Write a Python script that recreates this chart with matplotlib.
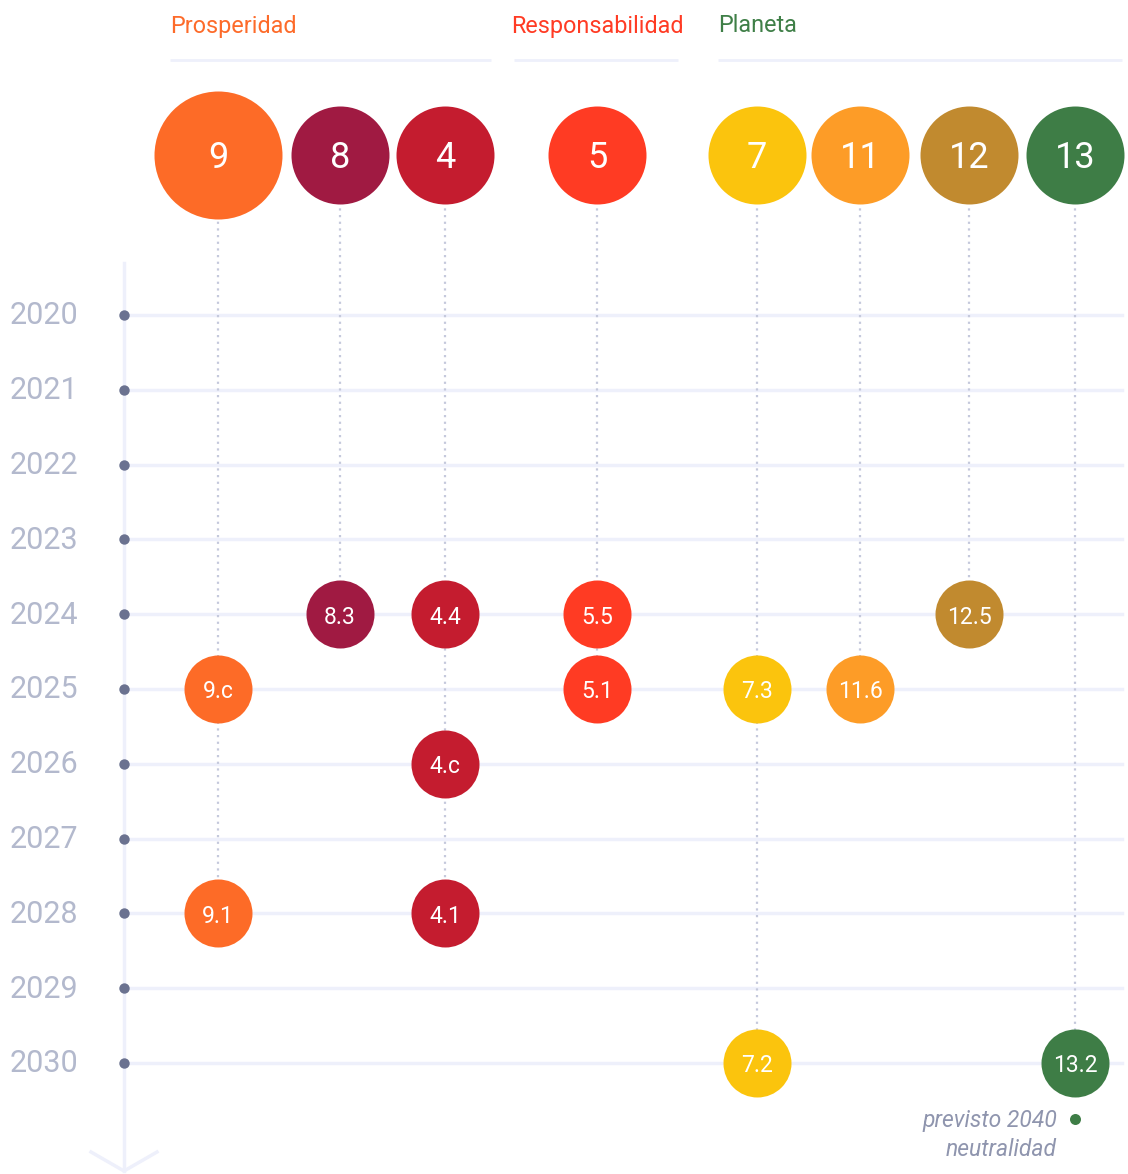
import matplotlib
matplotlib.use("Agg")
import matplotlib.pyplot as plt

# ---------------- data ----------------
years = list(range(2020, 2031))
goals = ["9", "8", "4", "5", "7", "11", "12", "13"]
goal_colors = ["#fd6b27", "#a01a42", "#c41c2f", "#ff3b23",
               "#fbc40d", "#fd9c27", "#c18a2f", "#3e7d46"]
pillars = ["Prosperidad", "Responsabilidad", "Planeta"]
pillar_colors = ["#fd6b2a", "#ff3b24", "#3f7f47"]

milestone_goal = ["9", "9", "8", "4", "4", "4", "5", "5", "7", "7", "11", "12", "13"]
milestone_label = ["9.c", "9.1", "8.3", "4.4", "4.c", "4.1", "5.5", "5.1",
                   "7.3", "7.2", "11.6", "12.5", "13.2"]
milestone_year = [2025, 2028, 2024, 2024, 2026, 2028, 2024, 2025,
                  2025, 2030, 2025, 2024, 2030]

note_lines = ["previsto 2040", "neutralidad"]

# ---------------- layout ----------------
W, H = 1128, 1174
px_per_year = 74.8
y0_px = 315
col_x = [218, 340, 445, 597, 757, 860, 969, 1075]   # column centres (px)
header_y_px = 155
pillar_text_x = [170, 511, 718]
pillar_line = [(170, 491), (514, 678), (718, 1122)]
axis_x = 124
label_shift = 3 / px_per_year   # text sits slightly below circle centre

def py(pix):
    """pixel row -> year coordinate"""
    return years[0] + (pix - y0_px) / px_per_year

def ptsize(radius_px):
    d = radius_px * 2 * 72 / 100
    return d * d

header_y = py(header_y_px)

fig = plt.figure(figsize=(W / 100, H / 100), dpi=100)
ax = fig.add_axes([0, 0, 1, 1])
ax.set_xlim(0, W)
ax.set_ylim(py(H), py(0))
ax.axis("off")

FONT = ["Roboto", "DejaVu Sans"]
grid_c = "#eef0fb"
dot_c = "#c5c9dc"

# pillar headings
for name, c, tx, (a, b) in zip(pillars, pillar_colors, pillar_text_x, pillar_line):
    ax.text(tx, py(26), name, color=c, fontsize=16.8, family=FONT,
            fontweight="normal", ha="left", va="center")
    ax.plot([a, b], [py(60), py(60)], color=grid_c, lw=2, solid_capstyle="butt", zorder=1)

# year axis
ax.plot([axis_x, axis_x], [py(263), py(1171)], color=grid_c, lw=2.5, zorder=1)
ax.plot([axis_x - 33, axis_x, axis_x + 33], [py(1152), py(1171), py(1152)],
        color=grid_c, lw=2.5, zorder=1)
for yr in years:
    ax.plot([axis_x, 1122], [yr, yr], color=grid_c, lw=2.5, zorder=1)
    ax.text(10, yr + 1 / px_per_year, str(yr), color="#b3b9cd", fontsize=22, family=FONT,
            fontweight="normal", ha="left", va="center")
ax.scatter([axis_x] * len(years), years, s=ptsize(5.2), color="#6b7290", zorder=3,
           linewidths=0)

# dotted connectors
col_of = {g: x for g, x in zip(goals, col_x)}
for g, x in zip(goals, col_x):
    ys = [y for mg, y in zip(milestone_goal, milestone_year) if mg == g]
    ax.plot([x, x], [header_y, max(ys)], color=dot_c, lw=1.6,
            linestyle=(0, (1, 2)), zorder=2)

# header circles
for g, c, x in zip(goals, goal_colors, col_x):
    r = 64 if g == "9" else 49
    ax.scatter([x], [header_y], s=ptsize(r), color=c, zorder=4, linewidths=0)
    ax.text(x, header_y + label_shift, g, color="white", fontsize=26, family=FONT,
            fontweight="normal", ha="center", va="center", zorder=5)

# milestones
color_of = {g: c for g, c in zip(goals, goal_colors)}
for g, lab, yr in zip(milestone_goal, milestone_label, milestone_year):
    x = col_of[g]
    ax.scatter([x], [yr], s=ptsize(34), color=color_of[g], zorder=4, linewidths=0)
    ax.text(x, yr + label_shift, lab, color="white", fontsize=16.5, family=FONT,
            fontweight="normal", ha="center", va="center", zorder=5)

# note
ax.text(1057, py(1121), note_lines[0], color="#8f95ae", fontsize=16.5, family=FONT,
        style="italic", ha="right", va="center")
ax.text(1057, py(1150), note_lines[1], color="#8f95ae", fontsize=16.5, family=FONT,
        style="italic", ha="right", va="center")
ax.scatter([1075], [py(1119)], s=ptsize(5.5), color="#3e7d46", linewidths=0, zorder=3)

fig.savefig("out.png", dpi=100, facecolor="white")
